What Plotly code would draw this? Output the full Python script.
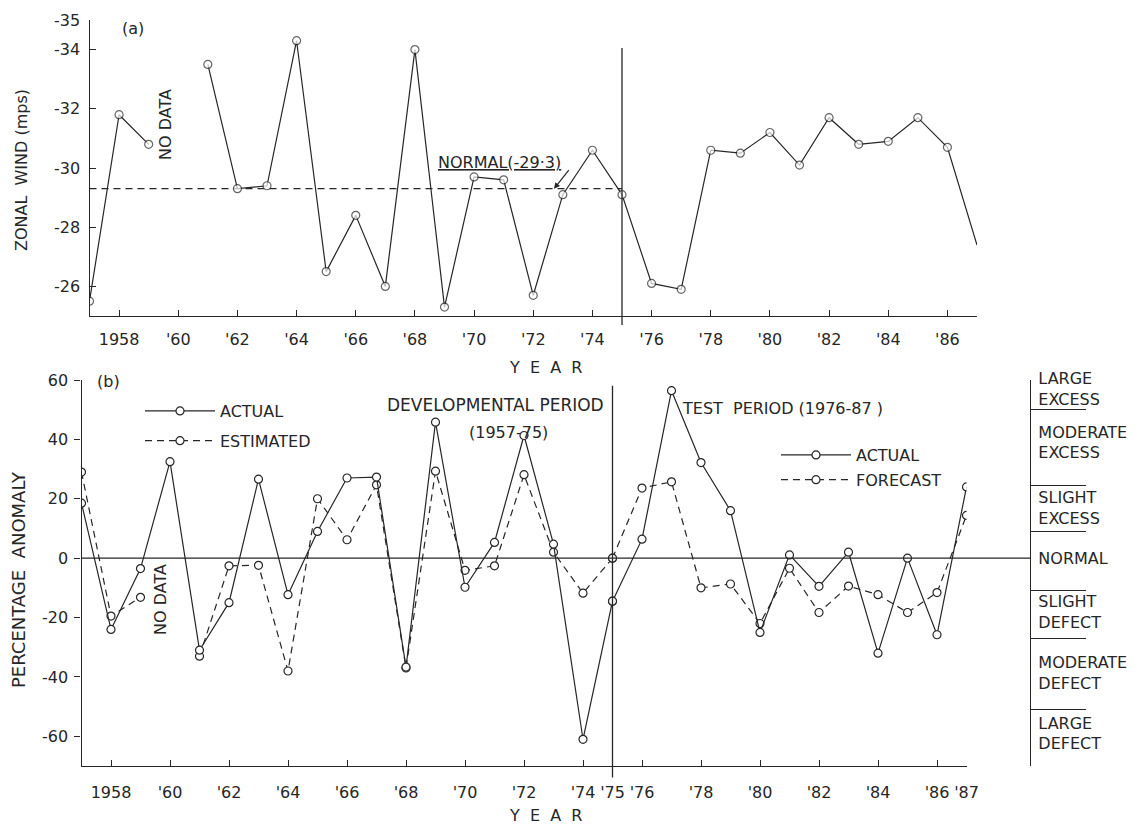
import plotly.graph_objects as go

W, H = 1144, 828
OX, OY = 8, 8          # page body margin of the html wrapper
FW, FH = W - OX, H - OY
INK = "#262626"
FONT = "DejaVu Sans"

# ---------------- data ----------------
years = list(range(1957, 1988))
zonal_wind = [-25.5, -31.8, -30.8, None, -33.5, -29.3, -29.4, -34.3, -26.5, -28.4,
              -26.0, -34.0, -25.3, -29.7, -29.6, -25.7, -29.1, -30.6, -29.1, -26.1,
              -25.9, -30.6, -30.5, -31.2, -30.1, -31.7, -30.8, -30.9, -31.7, -30.7, -27.4]
normal_wind = -29.3

actual = [18.5, -24.0, -3.5, 32.5, -31.0, -15.0, 26.6, -12.3, 9.0, 27.0,
          27.3, -36.7, 45.8, -9.8, 5.3, 41.3, 4.7, -61.0, -14.5, 6.4,
          56.4, 32.2, 16.0, -25.0, 1.1, -9.5, 2.0, -32.0, 0.0, -25.8, 24.0]
est_fcst = [29.0, -19.5, -13.2, None, -33.0, -2.6, -2.4, -38.0, 20.0, 6.2,
            24.7, -37.0, 29.3, -4.1, -2.6, 28.1, 2.0, -11.8, 0.0, 23.6,
            25.7, -10.0, -8.7, -22.0, -3.4, -18.3, -9.4, -12.3, -18.3, -11.6, 14.4]
split_year = 1975

top_ticks = list(range(1958, 1987, 2)) + [1987]
top_ticktext = ["1958", "'60", "'62", "'64", "'66", "'68", "'70", "'72", "'74",
                "'76", "'78", "'80", "'82", "'84", "'86", ""]
bot_ticks = [1958, 1960, 1962, 1964, 1966, 1968, 1970, 1972, 1974, 1975, 1976,
             1978, 1980, 1982, 1984, 1986, 1987]
bot_ticktext = ["1958", "'60", "'62", "'64", "'66", "'68", "'70", "'72", "'74", "'75", "'76",
                "'78", "'80", "'82", "'84", "'86", "'87"]
wind_ticks = [-35, -34, -32, -30, -28, -26]
wind_ticktext = ["-35", "-34", "-32", "-30", "-28", "-26"]
anom_ticks = [60, 40, 20, 0, -20, -40, -60]
anom_ticktext = ["60", "40", "20", "0", "-20", "-40", "-60"]

cat_labels = ["LARGE<br>EXCESS", "MODERATE<br>EXCESS", "SLIGHT<br>EXCESS", "NORMAL",
              "SLIGHT<br>DEFECT", "MODERATE<br>DEFECT", "LARGE<br>DEFECT"]
cat_centers = [57, 39, 17, 0, -18, -38.6, -59]
cat_bounds = [50, 24.5, 9, -11, -27, -51]


def px(x):
    return (x - OX) / FW


def py(y):
    return 1 - (y - OY) / FH


marker = dict(symbol="circle", size=8, color="white", line=dict(color=INK, width=1.2))

fig = go.Figure()

# ---------------- panel (a) ----------------
fig.add_trace(go.Scatter(
    x=[years[0], split_year], y=[normal_wind, normal_wind], mode="lines",
    line=dict(color=INK, width=1.3, dash="7px,5px"), showlegend=False,
    xaxis="x", yaxis="y", hoverinfo="skip"))
top_sizes = [8] * (len(years) - 1) + [0]
fig.add_trace(go.Scatter(
    x=years, y=zonal_wind, mode="lines+markers", connectgaps=False,
    line=dict(color=INK, width=1.2),
    marker=dict(marker, size=top_sizes), showlegend=False,
    xaxis="x", yaxis="y", name="Zonal wind"))

# ---------------- panel (b) ----------------
dev_idx = [i for i, y in enumerate(years) if y <= split_year]
test_idx = [i for i, y in enumerate(years) if y >= split_year]

fig.add_trace(go.Scatter(
    x=[years[i] for i in dev_idx], y=[est_fcst[i] for i in dev_idx],
    mode="lines+markers", connectgaps=False, name="ESTIMATED",
    line=dict(color=INK, width=1.2, dash="7px,5px"), marker=marker,
    xaxis="x2", yaxis="y2", legend="legend", legendrank=2, legendgroup="e"))
fig.add_trace(go.Scatter(
    x=[years[i] for i in dev_idx], y=[actual[i] for i in dev_idx],
    mode="lines+markers", name="ACTUAL",
    line=dict(color=INK, width=1.2), marker=marker,
    xaxis="x2", yaxis="y2", legend="legend", legendrank=1, legendgroup="a"))
fig.add_trace(go.Scatter(
    x=[years[i] for i in test_idx], y=[est_fcst[i] for i in test_idx],
    mode="lines+markers", name="FORECAST",
    line=dict(color=INK, width=1.2, dash="7px,5px"), marker=marker,
    xaxis="x2", yaxis="y2", legend="legend2", legendrank=2, legendgroup="f"))
fig.add_trace(go.Scatter(
    x=[years[i] for i in test_idx], y=[actual[i] for i in test_idx],
    mode="lines+markers", name="ACTUAL",
    line=dict(color=INK, width=1.2), marker=marker,
    xaxis="x2", yaxis="y2", legend="legend2", legendrank=1, legendgroup="b"))
# carrier for the category axis
fig.add_trace(go.Scatter(x=[], y=[], xaxis="x2", yaxis="y3", showlegend=False, hoverinfo="skip"))

axis_common = dict(showline=True, linecolor=INK, linewidth=1.3, showgrid=False, zeroline=False,
                   tickcolor=INK, tickwidth=1.3, ticklen=6, automargin=False,
                   tickfont=dict(family=FONT, size=16, color=INK))

fig.update_layout(
    width=FW, height=FH, margin=dict(l=0, r=0, t=0, b=0, autoexpand=False),
    paper_bgcolor="white", plot_bgcolor="white",
    font=dict(family=FONT, color=INK, size=16),
    xaxis=dict(axis_common, domain=[px(89.5), px(977)], range=[1957, 1987], anchor="y",
               tickmode="array", tickvals=top_ticks, ticktext=top_ticktext, ticks="inside",
               ticklabelstandoff=9),
    yaxis=dict(axis_common, domain=[py(316), py(20)], range=[-25, -35], anchor="x",
               tickmode="array", tickvals=wind_ticks, ticktext=wind_ticktext,
               ticks="inside", ticklabelstandoff=5),
    xaxis2=dict(axis_common, domain=[px(81.5), px(966.5)], range=[1957, 1987], anchor="y2",
                tickmode="array", tickvals=bot_ticks, ticktext=bot_ticktext, ticks="inside",
                ticklabelstandoff=12),
    yaxis2=dict(axis_common, domain=[py(766), py(380)], range=[-70, 60], anchor="x2",
                tickmode="array", tickvals=anom_ticks, ticktext=anom_ticktext,
                ticks="outside", ticklabelstandoff=3),
    yaxis3=dict(axis_common, overlaying="y2", anchor="free", position=px(1030), side="right",
                range=[-70, 60], tickmode="array", tickvals=cat_centers, ticktext=cat_labels,
                ticks="", ticklabelstandoff=4,
                minor=dict(tickmode="array", tickvals=cat_bounds, ticks="outside",
                           ticklen=55, tickcolor=INK, tickwidth=1.2)),
    legend=dict(x=px(140), y=py(394), xanchor="left", yanchor="top",
                bgcolor="rgba(0,0,0,0)", itemwidth=70, tracegroupgap=6,
                font=dict(family=FONT, size=16, color=INK)),
    legend2=dict(x=px(776), y=py(438), xanchor="left", yanchor="top",
                 bgcolor="rgba(0,0,0,0)", itemwidth=70, tracegroupgap=1,
                 font=dict(family=FONT, size=16, color=INK)),
    showlegend=True,
)

# divider lines and zero line
fig.add_shape(type="line", xref="x", yref="y domain", x0=split_year, x1=split_year,
              y0=-0.03, y1=0.905, line=dict(color=INK, width=1.3))
fig.add_shape(type="line", xref="x2", yref="y2 domain", x0=split_year, x1=split_year,
              y0=-0.03, y1=0.985, line=dict(color=INK, width=1.3))
fig.add_shape(type="line", xref="paper", yref="y2", x0=px(81.5), x1=px(1030),
              y0=0, y1=0, line=dict(color=INK, width=1.3))

ann = []


def text(x, y, s, size=16, angle=0, xanchor="center", yanchor="middle"):
    ann.append(dict(x=px(x), y=py(y), xref="paper", yref="paper", text=s, showarrow=False,
                    textangle=angle, xanchor=xanchor, yanchor=yanchor,
                    font=dict(family=FONT, size=size, color=INK)))


text(133, 28, "(a)")
text(108, 382, "(b)")
text(22, 170, "ZONAL  WIND (mps)", angle=-90)
text(165, 125, "NO DATA", angle=-90)
text(160, 600, "NO DATA", angle=-90)
text(18, 580, "PERCENTAGE  ANOMALY", size=18, angle=-90)
text(545, 368, "Y  E  A  R")
text(545, 815, "Y  E  A  R")
text(606, 405, "DEVELOPMENTAL PERIOD", size=17, xanchor="right")
text(550, 432, "(1957-75)", xanchor="right")
text(680, 408, "TEST  PERIOD (1976-87 )", xanchor="left")
text(436, 163, "<u>NORMAL(-29·3)</u>", xanchor="left")
fig.update_layout(annotations=ann)
fig.add_annotation(x=1972.7, y=normal_wind, xref="x", yref="y", text="", showarrow=True,
                   arrowhead=2, arrowsize=1, arrowwidth=1.2, arrowcolor=INK,
                   ax=16, ay=-20)

fig.write_html("out.html")
